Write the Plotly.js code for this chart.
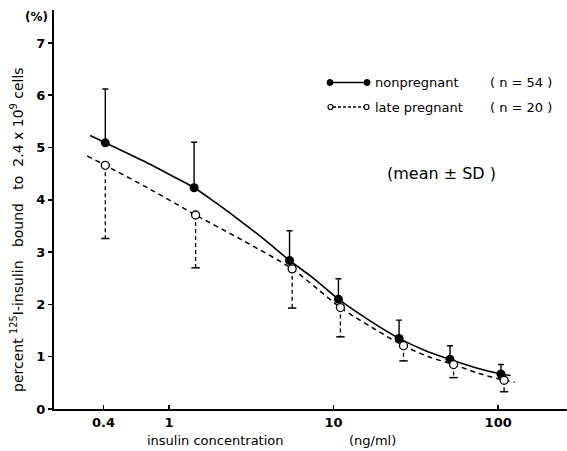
<!DOCTYPE html>
<html>
<head>
<meta charset="utf-8">
<script src="https://cdn.plot.ly/plotly-3.0.1.min.js"></script>
<style>html,body{margin:0;padding:0;background:#fff;}#chart{width:567px;height:451px;}</style>
</head>
<body>
<div id="chart"></div>
<script>
// ---- data ----
var npX = [0.41, 1.42, 5.4, 10.7, 25, 51, 104];
var npMean = [5.09, 4.23, 2.84, 2.10, 1.35, 0.95, 0.67];
var npSD = [1.03, 0.87, 0.57, 0.39, 0.35, 0.26, 0.18];

var lpX = [0.41, 1.45, 5.6, 11.0, 26.6, 53.6, 108.7];
var lpMean = [4.66, 3.71, 2.68, 1.94, 1.21, 0.85, 0.55];
var lpSD = [1.40, 1.01, 0.75, 0.56, 0.29, 0.25, 0.22];

// fitted curves
var npCurveX = [0.332, 0.41, 0.767, 1.04, 1.42, 1.93, 2.77, 3.87, 5.4, 7.62, 10.7, 16.4, 25, 35.9, 51, 72.9, 104, 119];
var npCurveY = [5.23, 5.09, 4.68, 4.46, 4.23, 3.94, 3.575, 3.22, 2.84, 2.49, 2.10, 1.70, 1.35, 1.12, 0.95, 0.79, 0.67, 0.64];
var lpCurveX = [0.318, 0.41, 0.771, 1.45, 2.86, 5.6, 7.88, 11.0, 17.1, 26.6, 37.8, 53.6, 76.4, 108.7, 126];
var lpCurveY = [4.84, 4.66, 4.20, 3.71, 3.21, 2.68, 2.31, 1.94, 1.56, 1.21, 1.00, 0.85, 0.68, 0.55, 0.51];

var xTickVals = [0.4, 1, 10, 100];
var xTickText = ['0.4', '1', '10', '100'];
var yTickVals = [0, 1, 2, 3, 4, 5, 6, 7];

// ---- layout geometry helpers ----
var W = 567, H = 451, mL = 54, mR = 0, mT = 10, mB = 42;
function px(x){ return (x - mL) / (W - mL - mR); }
function py(y){ return (H - mB - y) / (H - mT - mB); }

var FONT = 'DejaVu Sans';

// dashed lower error bars for late pregnant
var lpErrX = [], lpErrY = [], lpCapY = [];
for (var i = 0; i < lpX.length; i++) {
  lpErrX.push(lpX[i], lpX[i], null);
  lpErrY.push(lpMean[i], lpMean[i] - lpSD[i], null);
  lpCapY.push(lpMean[i] - lpSD[i]);
}

var traces = [
  {x: npCurveX, y: npCurveY, mode: 'lines', line: {color: '#000', width: 1.6, shape: 'spline', smoothing: 1}, hoverinfo: 'skip'},
  {x: lpCurveX, y: lpCurveY, mode: 'lines', line: {color: '#000', width: 1.5, dash: '5px,4px', shape: 'spline', smoothing: 0.8}, hoverinfo: 'skip'},
  {x: lpErrX, y: lpErrY, mode: 'lines', line: {color: '#000', width: 1.3, dash: '4px,3px'}, hoverinfo: 'skip'},
  {x: lpX, y: lpCapY, mode: 'markers', marker: {symbol: 'line-ew', size: 6, line: {color: '#000', width: 1.5}}, hoverinfo: 'skip'},
  {x: npX, y: npMean, mode: 'markers',
   marker: {symbol: 'circle', size: 9, color: '#000'},
   error_y: {type: 'data', symmetric: false, array: npSD, arrayminus: npSD.map(function(){return 0;}), color: '#000', thickness: 1.4, width: 3}},
  {x: lpX, y: lpMean, mode: 'markers',
   marker: {symbol: 'circle', size: 8, color: '#fff', line: {color: '#000', width: 1.3}}}
];

var shapes = [
  {type: 'line', xref: 'paper', yref: 'paper', x0: px(330), x1: px(367), y0: py(82.5), y1: py(82.5), line: {color: '#000', width: 1.5}},
  {type: 'circle', xref: 'paper', yref: 'paper', x0: px(327), x1: px(333), y0: py(85.5), y1: py(79.5), fillcolor: '#000', line: {color: '#000', width: 1}},
  {type: 'circle', xref: 'paper', yref: 'paper', x0: px(364), x1: px(370), y0: py(85.5), y1: py(79.5), fillcolor: '#000', line: {color: '#000', width: 1}},
  {type: 'line', xref: 'paper', yref: 'paper', x0: px(333), x1: px(364), y0: py(107), y1: py(107), line: {color: '#000', width: 1.3, dash: '3px,2px'}},
  {type: 'circle', xref: 'paper', yref: 'paper', x0: px(328), x1: px(333), y0: py(109.5), y1: py(104.5), fillcolor: '#fff', line: {color: '#000', width: 1.2}},
  {type: 'circle', xref: 'paper', yref: 'paper', x0: px(364), x1: px(369), y0: py(109.5), y1: py(104.5), fillcolor: '#fff', line: {color: '#000', width: 1.2}}
];

var tf = {family: FONT, size: 13, color: '#000'};
var annotations = [
  {text: 'nonpregnant', xref: 'paper', yref: 'paper', x: px(373), y: py(82), xanchor: 'left', yanchor: 'middle', showarrow: false, font: tf},
  {text: '( n = 54 )', xref: 'paper', yref: 'paper', x: px(488), y: py(82), xanchor: 'left', yanchor: 'middle', showarrow: false, font: tf},
  {text: 'late pregnant', xref: 'paper', yref: 'paper', x: px(373), y: py(107), xanchor: 'left', yanchor: 'middle', showarrow: false, font: tf},
  {text: '( n = 20 )', xref: 'paper', yref: 'paper', x: px(488), y: py(107), xanchor: 'left', yanchor: 'middle', showarrow: false, font: tf},
  {text: '(mean ± SD )', xref: 'paper', yref: 'paper', x: px(441), y: py(173), xanchor: 'center', yanchor: 'middle', showarrow: false, font: {family: FONT, size: 16, color: '#000'}},
  {text: '(%)', xref: 'paper', yref: 'paper', x: px(36), y: py(17), xanchor: 'center', yanchor: 'middle', showarrow: false, font: {family: FONT, size: 12, color: '#000', weight: 'bold'}},
  {text: 'insulin concentration', xref: 'paper', yref: 'paper', x: px(145), y: py(440), xanchor: 'left', yanchor: 'middle', showarrow: false, font: tf},
  {text: '(ng/ml)', xref: 'paper', yref: 'paper', x: px(347), y: py(440), xanchor: 'left', yanchor: 'middle', showarrow: false, font: tf},
  {text: 'percent <sup>125</sup>I-insulin&nbsp;&nbsp; bound&nbsp;&nbsp; to&nbsp; 2.4 x 10<sup>9</sup> cells', xref: 'paper', yref: 'paper', x: px(17), y: py(230), xanchor: 'center', yanchor: 'middle', textangle: -90, showarrow: false, font: {family: FONT, size: 14, color: '#000'}}
];

var layout = {
  width: W, height: H,
  margin: {l: mL, r: mR, t: mT, b: mB, pad: 0},
  paper_bgcolor: '#fff', plot_bgcolor: '#fff',
  showlegend: false,
  xaxis: {
    type: 'log', range: [Math.log10(0.2), Math.log10(262)],
    tickvals: xTickVals, ticktext: xTickText,
    ticks: 'inside', ticklen: 4, tickwidth: 1.5, tickcolor: '#000',
    showline: true, linecolor: '#000', linewidth: 2,
    showgrid: false, zeroline: false,
    tickfont: {family: FONT, size: 13, color: '#000', weight: 'bold'}
  },
  yaxis: {
    range: [0, 7.63],
    tickvals: yTickVals,
    ticks: 'outside', ticklen: 4, tickwidth: 1.5, tickcolor: '#000',
    showline: true, linecolor: '#000', linewidth: 2,
    showgrid: false, zeroline: false,
    tickfont: {family: FONT, size: 13, color: '#000', weight: 'bold'}
  },
  shapes: shapes,
  annotations: annotations
};

Plotly.newPlot('chart', traces, layout, {staticPlot: true, displayModeBar: false});
</script>
</body>
</html>
